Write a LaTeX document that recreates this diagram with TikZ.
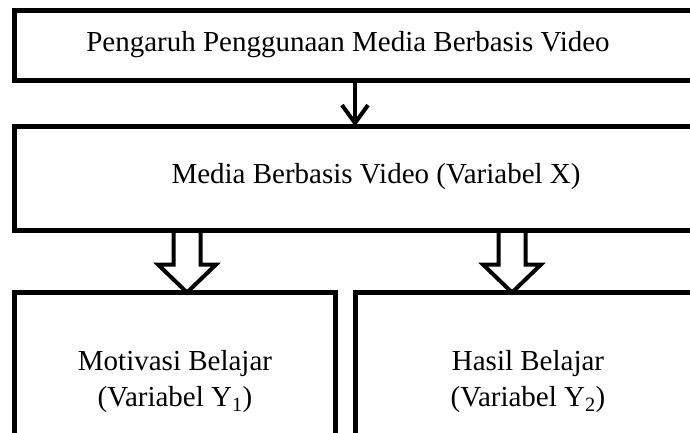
\documentclass[tikz,border=0pt]{standalone}
\usepackage{fontspec}
\setmainfont{Liberation Serif}
\usetikzlibrary{arrows.meta,positioning,calc}

\tikzset{
  box/.style={draw,line width=5pt,outer sep=0pt,inner sep=0pt,anchor=north west,align=center},
  lbl/.style={inner sep=0pt},
  thinarrow/.style={line width=4pt,-{Straight Barb[length=18pt,width=26pt]}},
  hollow/.style={draw,line width=4pt,line join=miter,
    to path={let \p1=(\tikztostart),\p2=(\tikztotarget) in
      (\x1-13.5pt,\y1) -- (\x1-13.5pt,\y2+28pt) -- (\x1-29pt,\y2+28pt) -- (\x2,\y2)
      -- (\x1+29pt,\y2+28pt) -- (\x1+13.5pt,\y2+28pt) -- (\x1+13.5pt,\y1)}}
}

\begin{document}
\begin{tikzpicture}[x=1pt,y=-1pt,font=\fontsize{29}{36}\selectfont]
  \useasboundingbox (0,0) rectangle (690,433);
  \clip (0,0) rectangle (690,433);

  % boxes
  \node[box,minimum width=700pt,minimum height=70pt] (b1) at (14.5,10.5) {};
  \node[box,minimum width=700pt,minimum height=104pt] (b2) at (14.5,126.5) {};
  \node[box,minimum width=321pt,minimum height=179pt] (b3) at (14.5,292.5)
    {Motivasi Belajar\\(Variabel Y\textsubscript{1})};
  \node[box,minimum width=345pt,minimum height=179pt] (b4) at (355.5,292.5)
    {Hasil Belajar\\(Variabel Y\textsubscript{2})};

  \node[lbl] (t1) at (348,45) {Pengaruh Penggunaan Media Berbasis Video};
  \node[lbl] (t2) at (376,177) {Media Berbasis Video (Variabel X)};

  % arrows
  \coordinate (k) at (355,0);
  \coordinate (p) at (187,0);
  \coordinate (q) at (512,0);
  \draw[thinarrow] (k |- b1.south) -- (k |- b2.north);
  \draw[hollow] (p |- b2.south) to (p |- b3.north);
  \draw[hollow] (q |- b2.south) to (q |- b4.north);
\end{tikzpicture}
\end{document}
